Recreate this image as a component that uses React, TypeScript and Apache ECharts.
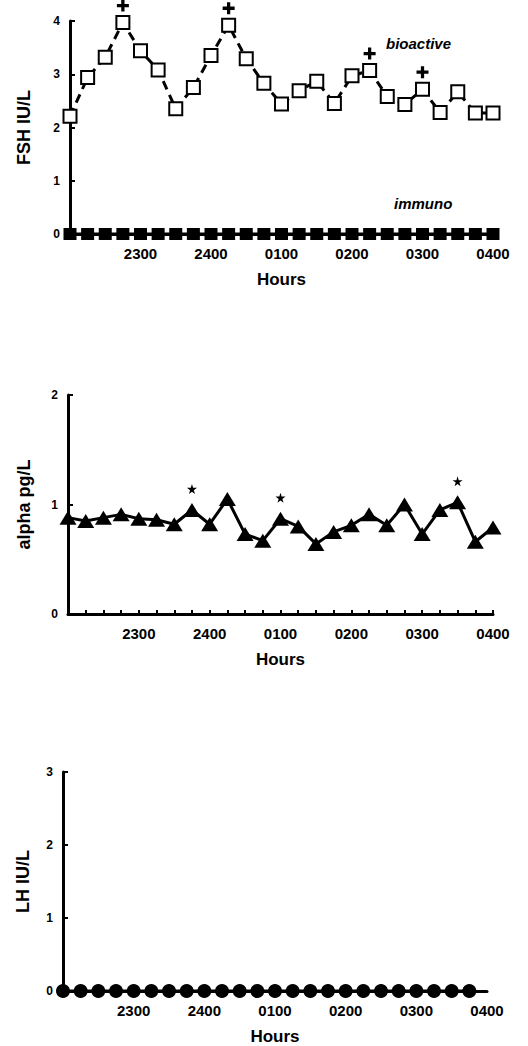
import React, { useEffect, useRef } from "react";
import * as echarts from "echarts";

// Sample index: 0 = 2200, every 15 minutes, 24 = 0400
const hourLabels = ["2300", "2400", "0100", "0200", "0300", "0400"];

const fshBioactive = [2.21, 2.94, 3.32, 3.97, 3.44, 3.08, 2.35, 2.75, 3.35, 3.92, 3.29, 2.83, 2.44, 2.69, 2.87, 2.45, 2.97, 3.07, 2.58, 2.43, 2.72, 2.28, 2.67, 2.27, 2.27];
const fshImmuno = [0, 0, 0, 0, 0, 0, 0, 0, 0, 0, 0, 0, 0, 0, 0, 0, 0, 0, 0, 0, 0, 0, 0, 0, 0];
const fshPlusIdx = [3, 9, 17, 20];

const alpha = [0.88, 0.85, 0.88, 0.91, 0.87, 0.86, 0.82, 0.95, 0.82, 1.05, 0.73, 0.67, 0.87, 0.8, 0.64, 0.75, 0.81, 0.91, 0.81, 1.0, 0.73, 0.95, 1.02, 0.66, 0.79];
const alphaStarIdx = [7, 12, 22];

const lh = [0, 0, 0, 0, 0, 0, 0, 0, 0, 0, 0, 0, 0, 0, 0, 0, 0, 0, 0, 0, 0, 0, 0, 0];

const FONT = "'Liberation Sans', Arial, Helvetica, sans-serif";
const INK = "#000";

const pairs = (arr: number[]) => arr.map((v, i) => [i, v]);
const picks = (idx: number[], arr: number[]) => idx.map((i) => [i, arr[i]]);

const PLUS = "path://M4,0H7V4H11V7H7V11H4V7H0V4H4Z";
const STAR = "path://M50,0L61,35H98L68,57L79,91L50,70L21,91L32,57L2,35H39Z";

function xAxisFor(gridIndex: number, interval: number, showTicks: boolean) {
  return {
    type: "value",
    gridIndex,
    min: 0,
    max: 24,
    interval,
    name: "Hours",
    nameLocation: "middle",
    nameGap: 37,
    nameTextStyle: { fontFamily: FONT, fontWeight: "bold", fontSize: 17, color: INK },
    axisLine: { show: true, lineStyle: { color: INK, width: 3 } },
    axisTick: { show: showTicks, inside: true, length: 4, lineStyle: { color: INK, width: 2 } },
    splitLine: { show: false },
    axisLabel: {
      margin: 12,
      fontFamily: FONT,
      fontWeight: "bold",
      fontSize: 15,
      color: INK,
      formatter: (v: number) => (v > 0 && v % 4 === 0 ? hourLabels[v / 4 - 1] : ""),
    },
  };
}

function yAxisFor(gridIndex: number, max: number, name: string, nameGap: number) {
  return {
    type: "value",
    gridIndex,
    min: 0,
    max,
    interval: 1,
    name,
    nameLocation: "middle",
    nameGap,
    nameTextStyle: { fontFamily: FONT, fontWeight: "bold", fontSize: 18, color: INK },
    axisLine: { show: true, lineStyle: { color: INK, width: 3 } },
    axisTick: { show: true, inside: true, length: 5, lineStyle: { color: INK, width: 2 } },
    splitLine: { show: false },
    axisLabel: { margin: 10, fontFamily: FONT, fontWeight: "bold", fontSize: 12, color: INK },
  };
}

export default function App() {
  const ref = useRef<HTMLDivElement>(null);
  useEffect(() => {
    document.body.style.margin = "0";
    const chart = echarts.init(ref.current!, undefined, { renderer: "svg" });
    chart.setOption({
      animation: false,
      backgroundColor: "#fff",
      grid: [
        { left: 70, top: 21, width: 423, height: 213 },
        { left: 68, top: 395, width: 425, height: 219 },
        { left: 63, top: 772, width: 424, height: 221 },
      ],
      xAxis: [xAxisFor(0, 4, false), xAxisFor(1, 1, true), xAxisFor(2, 4, false)],
      yAxis: [
        yAxisFor(0, 4, "FSH IU/L", 37),
        yAxisFor(1, 2, "alpha pg/L", 35),
        yAxisFor(2, 3, "LH IU/L", 31),
      ],
      graphic: [
        {
          type: "text",
          left: 386,
          top: 36,
          style: { text: "bioactive", font: `italic bold 15px ${FONT}`, fill: INK },
        },
        {
          type: "text",
          left: 394,
          top: 196,
          style: { text: "immuno", font: `italic bold 15px ${FONT}`, fill: INK },
        },
      ],
      series: [
        {
          type: "line",
          xAxisIndex: 0,
          yAxisIndex: 0,
          data: pairs(fshImmuno),
          symbol: "rect",
          symbolSize: [13, 12],
          itemStyle: { color: INK },
          lineStyle: { color: INK, width: 3 },
          z: 3,
        },
        {
          type: "line",
          xAxisIndex: 0,
          yAxisIndex: 0,
          data: pairs(fshBioactive),
          symbol: "emptyRect",
          symbolSize: 13,
          itemStyle: { color: INK, borderWidth: 2 },
          lineStyle: { color: INK, width: 3, type: [9, 6] },
          z: 4,
        },
        {
          type: "scatter",
          xAxisIndex: 0,
          yAxisIndex: 0,
          data: picks(fshPlusIdx, fshBioactive),
          symbol: PLUS,
          symbolSize: 12,
          symbolOffset: [0, -17],
          itemStyle: { color: INK, opacity: 1 },
          clip: false,
          z: 5,
        },
        {
          type: "line",
          xAxisIndex: 1,
          yAxisIndex: 1,
          data: pairs(alpha),
          symbol: "triangle",
          symbolSize: [17, 14],
          itemStyle: { color: INK },
          lineStyle: { color: INK, width: 3 },
          z: 4,
        },
        {
          type: "scatter",
          xAxisIndex: 1,
          yAxisIndex: 1,
          data: picks(alphaStarIdx, alpha),
          symbol: STAR,
          symbolSize: 10,
          symbolOffset: [0, -21],
          itemStyle: { color: INK, opacity: 1 },
          clip: false,
          z: 5,
        },
        {
          type: "line",
          xAxisIndex: 2,
          yAxisIndex: 2,
          data: pairs(lh),
          symbol: "circle",
          symbolSize: 14,
          itemStyle: { color: INK },
          lineStyle: { color: INK, width: 3 },
          z: 4,
        },
      ],
    });
    return () => chart.dispose();
  }, []);
  return (
    <div
      ref={ref}
      style={{ position: "fixed", left: 0, top: 0, width: 528, height: 1046, background: "#fff" }}
    />
  );
}
